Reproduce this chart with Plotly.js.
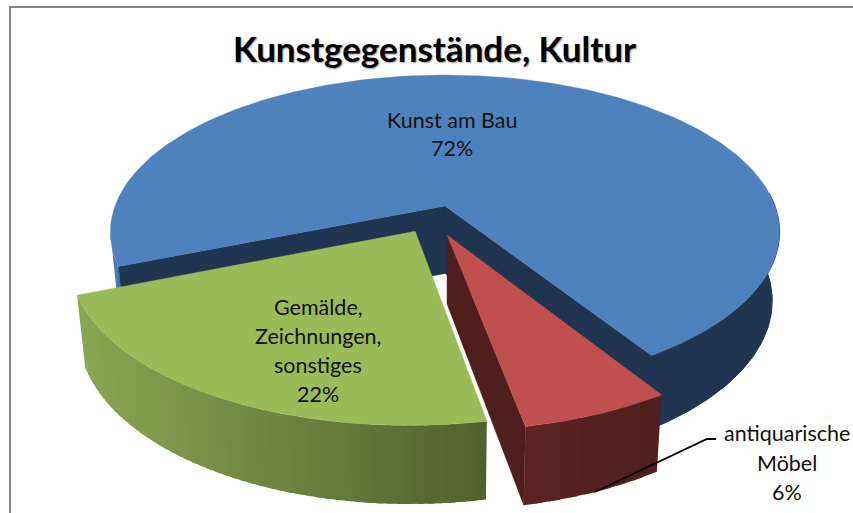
<!DOCTYPE html>
<html><head><meta charset="utf-8">
<script src="https://cdn.plot.ly/plotly-3.0.1.min.js"></script>
<style>html,body{margin:0;padding:0;background:#fff}#c{width:853px;height:513px}</style>
</head><body><div id="c"></div>
<script>
// Data
const categories = ["Kunst am Bau", "antiquarische Möbel", "Gemälde, Zeichnungen, sonstiges"];
const labelLines = [["Kunst am Bau"], ["antiquarische", "Möbel"], ["Gemälde,", "Zeichnungen,", "sonstiges"]];
const values = [72, 6, 22];
const titleText = "Kunstgegenstände, Kultur";

// Styles and view
const topColors = ["#4f81bd", "#c0504d", "#9bbb59"];
const firstAngle = -111.8;            // degrees clockwise from the back of the pie
const explode = [[0, 0], [0.006, 0.184], [-0.088, 0.161]];
const labelAnchors = [[452, 120], [787, 433], [318, 307]];
const labelStep = [28, 29.5, 29];
const view = {X0: 445, Y0: 206, R: 330, Q: 152.7, k: 0.1656};
const rad = d => d * Math.PI / 180;
function project(u, v) {
  const s = 1 / (1 - view.k * v);
  return [view.X0 + view.R * u * s, view.Y0 + view.Q * v * s];
}
function lower(p) {
  return [view.X0 + (p[0] - view.X0) * 0.978, p[1] + 69 + 0.05 * (p[1] - 235)];
}
function rim(i, a) {
  return project(explode[i][0] + Math.sin(rad(a)), explode[i][1] - Math.cos(rad(a)));
}
const apex = i => project(explode[i][0], explode[i][1]);
function poly(pts, color, w) {
  return {type: "scatter", mode: "lines", x: pts.map(p => p[0]), y: pts.map(p => p[1]),
    fill: "toself", fillcolor: color, line: {color: color, width: w === undefined ? 0.4 : w},
    hoverinfo: "skip", showlegend: false};
}
function mix(a, b, t) {
  const c = [0, 1, 2].map(j => Math.round(a[j] + (b[j] - a[j]) * Math.max(0, Math.min(1, t))));
  return `rgb(${c[0]},${c[1]},${c[2]})`;
}
// Side band: strips painted in order, each running a little under the next one so no seams show.
function wall(i, a0, a1, colorAt, step, w) {
  const out = [], n = Math.max(1, Math.ceil((a1 - a0) / step)), d = (a1 - a0) / n;
  for (let j = 0; j < n; j++) {
    const b0 = a0 + d * j, b1 = Math.min(a1, b0 + d * 1.6);
    const pts = [];
    for (let a = b0; a < b1; a += 1) pts.push(rim(i, a));
    pts.push(rim(i, b1));
    const back = pts.map(lower).reverse();
    out.push(poly(pts.concat(back, [pts[0]]), colorAt(rim(i, b0 + d / 2)[0]), w || 0));
  }
  return out;
}
function face(i, a0, a1) {
  const pts = [apex(i)];
  for (let a = a0; a < a1; a += 1) pts.push(rim(i, a));
  pts.push(rim(i, a1), apex(i));
  return poly(pts, topColors[i]);
}
function side(i, a, color) {
  const A = apex(i), P = rim(i, a);
  return poly([A, P, lower(P), lower(A), A], color);
}

// Slice angles come from the values
const total = values.reduce((s, v) => s + v, 0);
const spans = [];
let cursor = firstAngle;
values.forEach(v => { spans.push([cursor, cursor + v / total * 360]); cursor += v / total * 360; });

const traces = [];
const blueDark = "#1f3552";
// blue
traces.push(...wall(0, spans[0][0], spans[0][0] + 12, () => "#4a79b4", 12));
traces.push(...wall(0, 85, spans[0][1], () => blueDark, 100, 1));
traces.push(side(0, spans[0][0], blueDark), side(0, spans[0][1], blueDark));
traces.push(face(0, spans[0][0], spans[0][1]));
// red
traces.push(side(1, spans[1][1], "#4f1f1e"));
traces.push(...wall(1, spans[1][0], spans[1][1], x => mix([78, 31, 30], [92, 36, 34], (656 - x) / 135), 3));
traces.push(face(1, spans[1][0], spans[1][1]));
// green
traces.push(...wall(2, spans[2][0], spans[2][1], x => mix([80, 96, 44], [138, 166, 83], (488 - x) / 410), 1.5));
traces.push(face(2, spans[2][0], spans[2][1]));
// leader of the small slice label
const leaderStart = lower(rim(1, (spans[1][0] + spans[1][1]) / 2));
traces.push({type: "scatter", mode: "lines", x: [leaderStart[0], 707, 716], y: [leaderStart[1], 439, 439],
  line: {color: "#000", width: 1.8}, hoverinfo: "skip", showlegend: false});

const annotations = [];
labelLines.forEach((lines, i) => {
  [...lines, values[i] + "%"].forEach((t, j) => annotations.push({
    x: labelAnchors[i][0], y: labelAnchors[i][1] + j * labelStep[i], xref: "x", yref: "y",
    text: t, showarrow: false, xanchor: "center", yanchor: "middle",
    font: {family: "Lato, 'Open Sans', sans-serif", size: 21.5, color: "#111"}
  }));
});

const layout = {
  width: 853, height: 513, margin: {l: 0, r: 0, t: 0, b: 0},
  paper_bgcolor: "#fff", plot_bgcolor: "#fff", showlegend: false,
  title: {text: titleText, x: 434.5 / 853, xanchor: "center", y: 1 - 50 / 513, yanchor: "middle",
    font: {family: "Lato, 'Open Sans', sans-serif", size: 35, weight: 700, color: "#000", shadow: "1px 1px 1.5px #999"}},
  xaxis: {range: [0, 853], visible: false, fixedrange: true},
  yaxis: {range: [513, 0], visible: false, fixedrange: true},
  shapes: [{type: "rect", xref: "x", yref: "y", x0: 10, y0: 7, x1: 870, y1: 530,
    line: {color: "#868686", width: 2}, layer: "below"}],
  annotations: annotations
};
Plotly.newPlot("c", traces, layout, {displayModeBar: false, staticPlot: true});
</script></body></html>
